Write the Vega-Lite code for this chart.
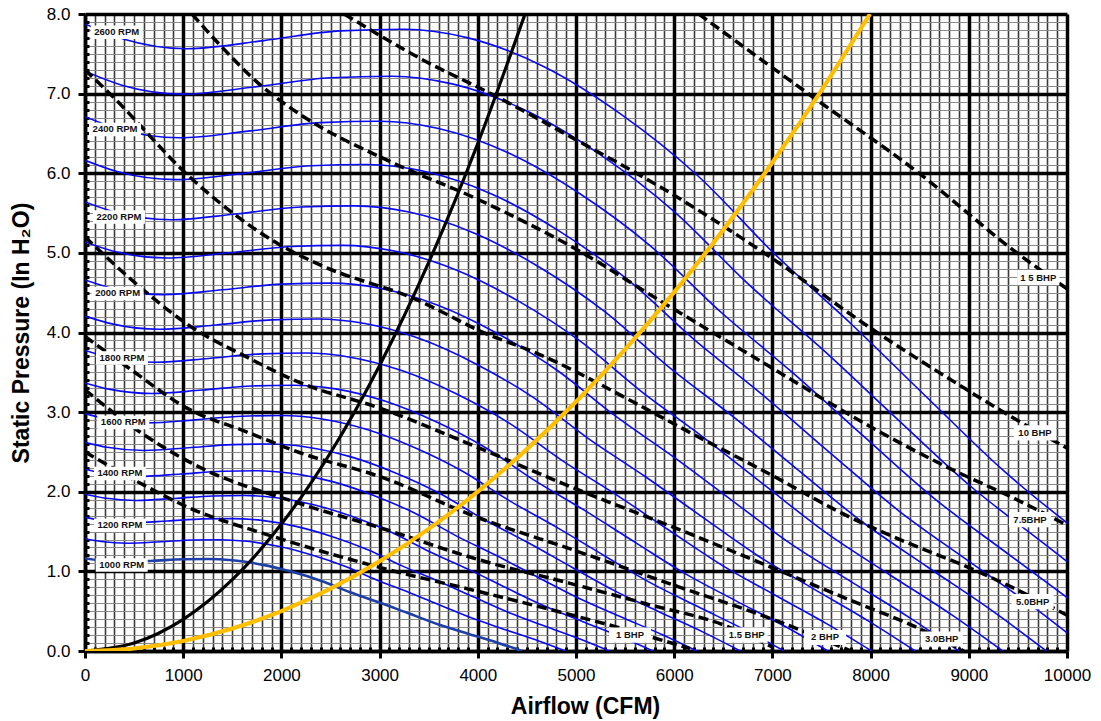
{
"$schema":"https://vega.github.io/schema/vega-lite/v6.json",
"width":982,"height":637,
"autosize":{"type":"none"},
"padding":{"left":85,"top":14,"right":34,"bottom":70},
"background":"white",
"config":{"view":{"stroke":null},"font":"Liberation Sans"},
"datasets":{
"fan":[
{"r":1000,"q":0,"p":1.165},{"r":1000,"q":150,"p":1.137},{"r":1000,"q":400,"p":1.119},{"r":1000,"q":700,"p":1.134},{"r":1000,"q":1000,"p":1.152},{"r":1000,"q":1250,"p":1.155},{"r":1000,"q":1500,"p":1.139},{"r":1000,"q":1800,"p":1.085},{"r":1000,"q":2100,"p":0.997},{"r":1000,"q":2400,"p":0.883},{"r":1000,"q":2700,"p":0.738},{"r":1000,"q":3000,"p":0.608},{"r":1000,"q":3300,"p":0.470},{"r":1000,"q":3600,"p":0.334},{"r":1000,"q":3900,"p":0.218},{"r":1000,"q":4200,"p":0.104},{"r":1000,"q":4450,"p":0},
{"r":1100,"q":0,"p":1.410},{"r":1100,"q":165,"p":1.376},{"r":1100,"q":440,"p":1.354},{"r":1100,"q":770,"p":1.372},{"r":1100,"q":1100,"p":1.394},{"r":1100,"q":1375,"p":1.398},{"r":1100,"q":1650,"p":1.378},{"r":1100,"q":1980,"p":1.313},{"r":1100,"q":2310,"p":1.206},{"r":1100,"q":2640,"p":1.068},{"r":1100,"q":2970,"p":0.893},{"r":1100,"q":3300,"p":0.736},{"r":1100,"q":3630,"p":0.569},{"r":1100,"q":3960,"p":0.404},{"r":1100,"q":4290,"p":0.264},{"r":1100,"q":4620,"p":0.126},{"r":1100,"q":4895,"p":0},
{"r":1200,"q":0,"p":1.678},{"r":1200,"q":180,"p":1.637},{"r":1200,"q":480,"p":1.611},{"r":1200,"q":840,"p":1.633},{"r":1200,"q":1200,"p":1.659},{"r":1200,"q":1500,"p":1.663},{"r":1200,"q":1800,"p":1.640},{"r":1200,"q":2160,"p":1.562},{"r":1200,"q":2520,"p":1.436},{"r":1200,"q":2880,"p":1.272},{"r":1200,"q":3240,"p":1.063},{"r":1200,"q":3600,"p":0.876},{"r":1200,"q":3960,"p":0.677},{"r":1200,"q":4320,"p":0.481},{"r":1200,"q":4680,"p":0.314},{"r":1200,"q":5040,"p":0.150},{"r":1200,"q":5340,"p":0},
{"r":1300,"q":0,"p":1.969},{"r":1300,"q":195,"p":1.922},{"r":1300,"q":520,"p":1.891},{"r":1300,"q":910,"p":1.916},{"r":1300,"q":1300,"p":1.947},{"r":1300,"q":1625,"p":1.952},{"r":1300,"q":1950,"p":1.925},{"r":1300,"q":2340,"p":1.834},{"r":1300,"q":2730,"p":1.685},{"r":1300,"q":3120,"p":1.492},{"r":1300,"q":3510,"p":1.247},{"r":1300,"q":3900,"p":1.028},{"r":1300,"q":4290,"p":0.794},{"r":1300,"q":4680,"p":0.564},{"r":1300,"q":5070,"p":0.368},{"r":1300,"q":5460,"p":0.176},{"r":1300,"q":5785,"p":0},
{"r":1400,"q":0,"p":2.283},{"r":1400,"q":210,"p":2.229},{"r":1400,"q":560,"p":2.193},{"r":1400,"q":980,"p":2.223},{"r":1400,"q":1400,"p":2.258},{"r":1400,"q":1750,"p":2.264},{"r":1400,"q":2100,"p":2.232},{"r":1400,"q":2520,"p":2.127},{"r":1400,"q":2940,"p":1.954},{"r":1400,"q":3360,"p":1.731},{"r":1400,"q":3780,"p":1.446},{"r":1400,"q":4200,"p":1.192},{"r":1400,"q":4620,"p":0.921},{"r":1400,"q":5040,"p":0.655},{"r":1400,"q":5460,"p":0.427},{"r":1400,"q":5880,"p":0.204},{"r":1400,"q":6230,"p":0},
{"r":1500,"q":0,"p":2.621},{"r":1500,"q":225,"p":2.558},{"r":1500,"q":600,"p":2.518},{"r":1500,"q":1050,"p":2.552},{"r":1500,"q":1500,"p":2.592},{"r":1500,"q":1875,"p":2.599},{"r":1500,"q":2250,"p":2.563},{"r":1500,"q":2700,"p":2.441},{"r":1500,"q":3150,"p":2.243},{"r":1500,"q":3600,"p":1.987},{"r":1500,"q":4050,"p":1.661},{"r":1500,"q":4500,"p":1.368},{"r":1500,"q":4950,"p":1.058},{"r":1500,"q":5400,"p":0.752},{"r":1500,"q":5850,"p":0.491},{"r":1500,"q":6300,"p":0.234},{"r":1500,"q":6675,"p":0},
{"r":1600,"q":0,"p":2.982},{"r":1600,"q":240,"p":2.911},{"r":1600,"q":640,"p":2.865},{"r":1600,"q":1120,"p":2.903},{"r":1600,"q":1600,"p":2.949},{"r":1600,"q":2000,"p":2.957},{"r":1600,"q":2400,"p":2.916},{"r":1600,"q":2880,"p":2.778},{"r":1600,"q":3360,"p":2.552},{"r":1600,"q":3840,"p":2.260},{"r":1600,"q":4320,"p":1.889},{"r":1600,"q":4800,"p":1.556},{"r":1600,"q":5280,"p":1.203},{"r":1600,"q":5760,"p":0.855},{"r":1600,"q":6240,"p":0.558},{"r":1600,"q":6720,"p":0.266},{"r":1600,"q":7120,"p":0},
{"r":1700,"q":0,"p":3.367},{"r":1700,"q":255,"p":3.286},{"r":1700,"q":680,"p":3.234},{"r":1700,"q":1190,"p":3.277},{"r":1700,"q":1700,"p":3.329},{"r":1700,"q":2125,"p":3.338},{"r":1700,"q":2550,"p":3.292},{"r":1700,"q":3060,"p":3.136},{"r":1700,"q":3570,"p":2.881},{"r":1700,"q":4080,"p":2.552},{"r":1700,"q":4590,"p":2.133},{"r":1700,"q":5100,"p":1.757},{"r":1700,"q":5610,"p":1.358},{"r":1700,"q":6120,"p":0.965},{"r":1700,"q":6630,"p":0.630},{"r":1700,"q":7140,"p":0.301},{"r":1700,"q":7565,"p":0},
{"r":1800,"q":0,"p":3.775},{"r":1800,"q":270,"p":3.684},{"r":1800,"q":720,"p":3.626},{"r":1800,"q":1260,"p":3.674},{"r":1800,"q":1800,"p":3.732},{"r":1800,"q":2250,"p":3.742},{"r":1800,"q":2700,"p":3.690},{"r":1800,"q":3240,"p":3.515},{"r":1800,"q":3780,"p":3.230},{"r":1800,"q":4320,"p":2.861},{"r":1800,"q":4860,"p":2.391},{"r":1800,"q":5400,"p":1.970},{"r":1800,"q":5940,"p":1.523},{"r":1800,"q":6480,"p":1.082},{"r":1800,"q":7020,"p":0.706},{"r":1800,"q":7560,"p":0.337},{"r":1800,"q":8010,"p":0},
{"r":1900,"q":0,"p":4.206},{"r":1900,"q":285,"p":4.105},{"r":1900,"q":760,"p":4.040},{"r":1900,"q":1330,"p":4.094},{"r":1900,"q":1900,"p":4.159},{"r":1900,"q":2375,"p":4.170},{"r":1900,"q":2850,"p":4.112},{"r":1900,"q":3420,"p":3.917},{"r":1900,"q":3990,"p":3.599},{"r":1900,"q":4560,"p":3.188},{"r":1900,"q":5130,"p":2.664},{"r":1900,"q":5700,"p":2.195},{"r":1900,"q":6270,"p":1.697},{"r":1900,"q":6840,"p":1.206},{"r":1900,"q":7410,"p":0.787},{"r":1900,"q":7980,"p":0.375},{"r":1900,"q":8455,"p":0},
{"r":2000,"q":0,"p":4.660},{"r":2000,"q":300,"p":4.548},{"r":2000,"q":800,"p":4.476},{"r":2000,"q":1400,"p":4.536},{"r":2000,"q":2000,"p":4.608},{"r":2000,"q":2500,"p":4.620},{"r":2000,"q":3000,"p":4.556},{"r":2000,"q":3600,"p":4.340},{"r":2000,"q":4200,"p":3.988},{"r":2000,"q":4800,"p":3.532},{"r":2000,"q":5400,"p":2.952},{"r":2000,"q":6000,"p":2.432},{"r":2000,"q":6600,"p":1.880},{"r":2000,"q":7200,"p":1.336},{"r":2000,"q":7800,"p":0.872},{"r":2000,"q":8400,"p":0.416},{"r":2000,"q":8900,"p":0},
{"r":2100,"q":0,"p":5.138},{"r":2100,"q":315,"p":5.014},{"r":2100,"q":840,"p":4.935},{"r":2100,"q":1470,"p":5.001},{"r":2100,"q":2100,"p":5.080},{"r":2100,"q":2625,"p":5.094},{"r":2100,"q":3150,"p":5.023},{"r":2100,"q":3780,"p":4.785},{"r":2100,"q":4410,"p":4.397},{"r":2100,"q":5040,"p":3.894},{"r":2100,"q":5670,"p":3.255},{"r":2100,"q":6300,"p":2.681},{"r":2100,"q":6930,"p":2.073},{"r":2100,"q":7560,"p":1.473},{"r":2100,"q":8190,"p":0.961},{"r":2100,"q":8820,"p":0.459},{"r":2100,"q":9345,"p":0},
{"r":2200,"q":0,"p":5.639},{"r":2200,"q":330,"p":5.503},{"r":2200,"q":880,"p":5.416},{"r":2200,"q":1540,"p":5.489},{"r":2200,"q":2200,"p":5.576},{"r":2200,"q":2750,"p":5.590},{"r":2200,"q":3300,"p":5.513},{"r":2200,"q":3960,"p":5.251},{"r":2200,"q":4620,"p":4.826},{"r":2200,"q":5280,"p":4.274},{"r":2200,"q":5940,"p":3.572},{"r":2200,"q":6600,"p":2.943},{"r":2200,"q":7260,"p":2.275},{"r":2200,"q":7920,"p":1.617},{"r":2200,"q":8580,"p":1.055},{"r":2200,"q":9240,"p":0.503},{"r":2200,"q":9790,"p":0},
{"r":2300,"q":0,"p":6.163},{"r":2300,"q":345,"p":6.015},{"r":2300,"q":920,"p":5.920},{"r":2300,"q":1610,"p":5.999},{"r":2300,"q":2300,"p":6.094},{"r":2300,"q":2875,"p":6.110},{"r":2300,"q":3450,"p":6.025},{"r":2300,"q":4140,"p":5.740},{"r":2300,"q":4830,"p":5.274},{"r":2300,"q":5520,"p":4.671},{"r":2300,"q":6210,"p":3.904},{"r":2300,"q":6900,"p":3.216},{"r":2300,"q":7590,"p":2.486},{"r":2300,"q":8280,"p":1.767},{"r":2300,"q":8970,"p":1.153},{"r":2300,"q":9660,"p":0.550},{"r":2300,"q":10235,"p":0},
{"r":2400,"q":0,"p":6.710},{"r":2400,"q":360,"p":6.549},{"r":2400,"q":960,"p":6.445},{"r":2400,"q":1680,"p":6.532},{"r":2400,"q":2400,"p":6.636},{"r":2400,"q":3000,"p":6.653},{"r":2400,"q":3600,"p":6.561},{"r":2400,"q":4320,"p":6.250},{"r":2400,"q":5040,"p":5.743},{"r":2400,"q":5760,"p":5.086},{"r":2400,"q":6480,"p":4.251},{"r":2400,"q":7200,"p":3.502},{"r":2400,"q":7920,"p":2.707},{"r":2400,"q":8640,"p":1.924},{"r":2400,"q":9360,"p":1.256},{"r":2400,"q":10080,"p":0.599},
{"r":2500,"q":0,"p":7.281},{"r":2500,"q":375,"p":7.106},{"r":2500,"q":1000,"p":6.994},{"r":2500,"q":1750,"p":7.088},{"r":2500,"q":2500,"p":7.200},{"r":2500,"q":3125,"p":7.219},{"r":2500,"q":3750,"p":7.119},{"r":2500,"q":4500,"p":6.781},{"r":2500,"q":5250,"p":6.231},{"r":2500,"q":6000,"p":5.519},{"r":2500,"q":6750,"p":4.613},{"r":2500,"q":7500,"p":3.800},{"r":2500,"q":8250,"p":2.938},{"r":2500,"q":9000,"p":2.088},{"r":2500,"q":9750,"p":1.363},{"r":2500,"q":10500,"p":0.650},
{"r":2600,"q":0,"p":7.875},{"r":2600,"q":390,"p":7.686},{"r":2600,"q":1040,"p":7.564},{"r":2600,"q":1820,"p":7.666},{"r":2600,"q":2600,"p":7.788},{"r":2600,"q":3250,"p":7.808},{"r":2600,"q":3900,"p":7.700},{"r":2600,"q":4680,"p":7.335},{"r":2600,"q":5460,"p":6.740},{"r":2600,"q":6240,"p":5.969},{"r":2600,"q":7020,"p":4.989},{"r":2600,"q":7800,"p":4.110},{"r":2600,"q":8580,"p":3.177},{"r":2600,"q":9360,"p":2.258},{"r":2600,"q":10140,"p":1.474}
],
"bhp":[
{"b":"15","q":6250,"p":8.0},{"b":"15","q":7454,"p":6.92},{"b":"15","q":8473,"p":6.02},{"b":"15","q":9490,"p":5.0},{"b":"15","q":10000,"p":4.55},
{"b":"10","q":2640,"p":8.0},{"b":"10","q":3400,"p":7.45},{"b":"10","q":4196,"p":6.96},{"b":"10","q":4970,"p":6.44},{"b":"10","q":5855,"p":5.83},{"b":"10","q":6975,"p":4.95},{"b":"10","q":7994,"p":4.06},{"b":"10","q":8982,"p":3.28},{"b":"10","q":9490,"p":2.9},{"b":"10","q":10000,"p":2.55},
{"b":"7.5","q":1090,"p":8.0},{"b":"7.5","q":1375,"p":7.61},{"b":"7.5","q":1803,"p":7.09},{"b":"7.5","q":2190,"p":6.74},{"b":"7.5","q":3136,"p":6.13},{"b":"7.5","q":3951,"p":5.7},{"b":"7.5","q":5010,"p":5.04},{"b":"7.5","q":5855,"p":4.4},{"b":"7.5","q":6975,"p":3.57},{"b":"7.5","q":7994,"p":2.82},{"b":"7.5","q":8778,"p":2.31},{"b":"7.5","q":9490,"p":1.9},{"b":"7.5","q":10000,"p":1.58},
{"b":"5","q":0,"p":7.3},{"b":"5","q":285,"p":6.96},{"b":"5","q":1070,"p":5.95},{"b":"5","q":1986,"p":5.1},{"b":"5","q":2393,"p":4.85},{"b":"5","q":3381,"p":4.41},{"b":"5","q":4094,"p":3.98},{"b":"5","q":4562,"p":3.76},{"b":"5","q":5580,"p":3.13},{"b":"5","q":6060,"p":2.81},{"b":"5","q":6975,"p":2.22},{"b":"5","q":7790,"p":1.68},{"b":"5","q":8473,"p":1.31},{"b":"5","q":8941,"p":1.08},{"b":"5","q":9490,"p":0.77},{"b":"5","q":10000,"p":0.45},
{"b":"3","q":0,"p":5.2},{"b":"3","q":560,"p":4.57},{"b":"3","q":1070,"p":4.08},{"b":"3","q":1650,"p":3.69},{"b":"3","q":2190,"p":3.37},{"b":"3","q":3004,"p":3.05},{"b":"3","q":3992,"p":2.56},{"b":"3","q":4970,"p":2.05},{"b":"3","q":6060,"p":1.52},{"b":"3","q":7790,"p":0.64},{"b":"3","q":8534,"p":0.26},{"b":"3","q":8950,"p":0.0},
{"b":"2","q":0,"p":3.95},{"b":"2","q":428,"p":3.57},{"b":"2","q":1039,"p":3.05},{"b":"2","q":1650,"p":2.75},{"b":"2","q":2190,"p":2.49},{"b":"2","q":3004,"p":2.19},{"b":"2","q":3992,"p":1.68},{"b":"2","q":4970,"p":1.27},{"b":"2","q":6060,"p":0.8},{"b":"2","q":7000,"p":0.4},{"b":"2","q":7800,"p":0.0},
{"b":"1.5","q":0,"p":3.28},{"b":"1.5","q":560,"p":2.75},{"b":"1.5","q":1100,"p":2.35},{"b":"1.5","q":2190,"p":1.85},{"b":"1.5","q":3000,"p":1.55},{"b":"1.5","q":4000,"p":1.15},{"b":"1.5","q":4939,"p":0.85},{"b":"1.5","q":5754,"p":0.58},{"b":"1.5","q":6497,"p":0.33},{"b":"1.5","q":7000,"p":0.05},
{"b":"1","q":0,"p":2.5},{"b":"1","q":560,"p":2.11},{"b":"1","q":1039,"p":1.81},{"b":"1","q":1885,"p":1.45},{"b":"1","q":3000,"p":1.05},{"b":"1","q":4000,"p":0.75},{"b":"1","q":4837,"p":0.49},{"b":"1","q":5418,"p":0.3},{"b":"1","q":5754,"p":0.18},{"b":"1","q":6161,"p":0.03}
],
"sysA":[
{"q":0,"p":0},{"q":500,"p":0.0996},{"q":1000,"p":0.398},{"q":1500,"p":0.896},{"q":2000,"p":1.594},{"q":2500,"p":2.49},{"q":3000,"p":3.586},{"q":3500,"p":4.88},{"q":4000,"p":6.374},{"q":4481,"p":8.0}
],
"sysB":[
{"q":0,"p":0},{"q":500,"p":0.0313},{"q":1000,"p":0.125},{"q":1500,"p":0.2817},{"q":2000,"p":0.501},{"q":2500,"p":0.7824},{"q":3000,"p":1.127},{"q":3500,"p":1.5336},{"q":4000,"p":2.003},{"q":4500,"p":2.535},{"q":5000,"p":3.13},{"q":5500,"p":3.787},{"q":6000,"p":4.507},{"q":6500,"p":5.289},{"q":7000,"p":6.134},{"q":7500,"p":7.042},{"q":7994,"p":8.0}
],
"rpmlab":[
{"t":"2600 RPM","q":323,"p":7.77},{"t":"2400 RPM","q":306,"p":6.55},{"t":"2200 RPM","q":346,"p":5.45},{"t":"2000 RPM","q":332,"p":4.49},{"t":"1800 RPM","q":377,"p":3.68},{"t":"1600 RPM","q":390,"p":2.87},{"t":"1400 RPM","q":356,"p":2.23},{"t":"1200 RPM","q":356,"p":1.58},{"t":"1000 RPM","q":374,"p":1.08}
],
"bhplab":[
{"t":"1 BHP","q":5550,"p":0.2},{"t":"1.5 BHP","q":6738,"p":0.2},{"t":"2 BHP","q":7536,"p":0.17},{"t":"3.0BHP","q":8724,"p":0.15},{"t":"5.0BHP","q":9650,"p":0.62},{"t":"7.5BHP","q":9623,"p":1.65},{"t":"10 BHP","q":9674,"p":2.74},{"t":"1 5 BHP","q":9708,"p":4.69}
]
},
"encoding":{
"x":{"field":"q","type":"quantitative","scale":{"domain":[0,10000],"nice":false,"zero":false},
 "axis":{"values":[0,100,200,300,400,500,600,700,800,900,1000,1100,1200,1300,1400,1500,1600,1700,1800,1900,2000,2100,2200,2300,2400,2500,2600,2700,2800,2900,3000,3100,3200,3300,3400,3500,3600,3700,3800,3900,4000,4100,4200,4300,4400,4500,4600,4700,4800,4900,5000,5100,5200,5300,5400,5500,5600,5700,5800,5900,6000,6100,6200,6300,6400,6500,6600,6700,6800,6900,7000,7100,7200,7300,7400,7500,7600,7700,7800,7900,8000,8100,8200,8300,8400,8500,8600,8700,8800,8900,9000,9100,9200,9300,9400,9500,9600,9700,9800,9900,10000],
  "labelExpr":"datum.value % 1000 == 0 ? '' + datum.value : ''",
  "labelFontSize":17,"labelColor":"black","labelFont":"Liberation Sans","labelPadding":9,"labelOverlap":false,"labelFlush":false,
  "grid":true,
  "gridColor":{"condition":{"test":"datum.value % 1000 == 0","value":"black"},"value":"#3a3a3a"},
  "gridWidth":{"condition":{"test":"datum.value % 1000 == 0","value":3.5},"value":1.6},
  "gridOpacity":1,
  "tickColor":"black",
  "tickSize":{"condition":{"test":"datum.value % 1000 == 0","value":7},"value":-4},
  "tickWidth":{"condition":{"test":"datum.value % 1000 == 0","value":3},"value":3},
  "domain":true,"domainColor":"black","domainWidth":3.5,
  "title":"Airflow (CFM)","titleFontSize":23,"titleFontWeight":"bold","titleColor":"black","titleFont":"Liberation Sans",
  "titleX":500,"titleAlign":"center","titleY":55,"titleBaseline":"middle"}},
"y":{"field":"p","type":"quantitative","scale":{"domain":[0,8],"nice":false,"zero":false},
 "axis":{"values":[0,0.1,0.2,0.3,0.4,0.5,0.6,0.7,0.8,0.9,1,1.1,1.2,1.3,1.4,1.5,1.6,1.7,1.8,1.9,2,2.1,2.2,2.3,2.4,2.5,2.6,2.7,2.8,2.9,3,3.1,3.2,3.3,3.4,3.5,3.6,3.7,3.8,3.9,4,4.1,4.2,4.3,4.4,4.5,4.6,4.7,4.8,4.9,5,5.1,5.2,5.3,5.4,5.5,5.6,5.7,5.8,5.9,6,6.1,6.2,6.3,6.4,6.5,6.6,6.7,6.8,6.9,7,7.1,7.2,7.3,7.4,7.5,7.6,7.7,7.8,7.9,8],
  "labelExpr":"abs(datum.value - round(datum.value)) < 0.01 ? format(datum.value, '.1f') : ''",
  "labelFontSize":17,"labelColor":"black","labelFont":"Liberation Sans","labelPadding":8,"labelOverlap":false,"labelFlush":false,
  "grid":true,
  "gridColor":{"condition":{"test":"abs(datum.value - round(datum.value)) < 0.01","value":"black"},"value":"#8a8a8a"},
  "gridWidth":{"condition":{"test":"abs(datum.value - round(datum.value)) < 0.01","value":3.5},"value":1.2},
  "gridDash":{"condition":{"test":"abs(datum.value - round(datum.value)) < 0.01","value":[]},"value":[94.7,3.5]},
  "gridDashOffset":96.45,
  "gridOpacity":1,
  "tickColor":"black",
  "tickSize":{"condition":{"test":"abs(datum.value - round(datum.value)) < 0.01","value":7},"value":-4},
  "tickWidth":{"condition":{"test":"abs(datum.value - round(datum.value)) < 0.01","value":3},"value":3},
  "domain":true,"domainColor":"black","domainWidth":3.5,
  "title":"Static Pressure (In H₂O)","titleFontSize":23,"titleFontWeight":"bold","titleColor":"black","titleFont":"Liberation Sans",
  "titleX":-64,"titleY":318.5,"titleAngle":-90,"titleAlign":"center","titleBaseline":"middle"}}
},
"layer":[
{"data":{"name":"fan"},"transform":[{"filter":"datum.r != 1000"}],
 "mark":{"type":"line","color":"#0a0af0","strokeWidth":1.6,"interpolate":"monotone","clip":true},
 "encoding":{"detail":{"field":"r","type":"nominal"}}},
{"data":{"name":"fan"},"transform":[{"filter":"datum.r == 1000"}],
 "mark":{"type":"line","color":"#1f3fa8","strokeWidth":2.6,"interpolate":"monotone","clip":true},
 "encoding":{"detail":{"field":"r","type":"nominal"}}},
{"data":{"name":"bhp"},
 "mark":{"type":"line","color":"black","strokeWidth":3.5,"strokeDash":[10,5],"interpolate":"monotone","clip":true},
 "encoding":{"detail":{"field":"b","type":"nominal"}}},
{"data":{"name":"sysA"},
 "mark":{"type":"line","color":"black","strokeWidth":3.2,"interpolate":"monotone","clip":true},
 "encoding":{}},
{"data":{"name":"sysB"},
 "mark":{"type":"line","color":"#ffbf00","strokeWidth":4.2,"interpolate":"monotone","clip":true},
 "encoding":{}},
{"data":{"name":"rpmlab"},
 "mark":{"type":"point","shape":"M-1,-0.26H1V0.26H-1Z","size":2704,"filled":true,"color":"white","opacity":1,"strokeWidth":0}},
{"data":{"name":"rpmlab"},
 "mark":{"type":"text","fontSize":9.5,"fontWeight":"bold","color":"#111","font":"Liberation Sans","align":"center","baseline":"middle"},
 "encoding":{"text":{"field":"t","type":"nominal"}}},
{"data":{"name":"bhplab"},
 "mark":{"type":"point","shape":"M-1,-0.36H1V0.36H-1Z","size":1764,"filled":true,"color":"white","opacity":1,"strokeWidth":0}},
{"data":{"name":"bhplab"},
 "mark":{"type":"text","fontSize":9.5,"fontWeight":"bold","color":"#111","font":"Liberation Sans","align":"center","baseline":"middle"},
 "encoding":{"text":{"field":"t","type":"nominal"}}}
]
}
